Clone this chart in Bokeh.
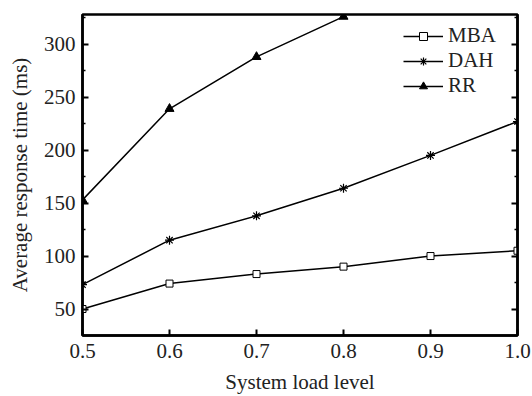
from bokeh.plotting import figure
from bokeh.models import LinearAxis, Range1d, FixedTicker, Legend, LegendItem
from bokeh.embed import file_html
from bokeh.resources import INLINE

load = [0.5, 0.6, 0.7, 0.8, 0.9, 1.0]
mba = [50, 74, 83, 90, 100, 105]
dah = [73, 115, 138, 164, 195, 227]
rr_load = [0.5, 0.6, 0.7, 0.8]
rr = [153, 239, 288, 326]
x_ticks = [0.5, 0.6, 0.7, 0.8, 0.9, 1.0]
y_ticks = [50, 100, 150, 200, 250, 300]
y_minor = [75, 125, 175, 225, 275, 325]

FONT = "Liberation Serif"
TXT = "#222222"

p = figure(width=532, height=396, output_backend="svg", toolbar_location=None,
           x_range=Range1d(0.5, 1.0), y_range=Range1d(25, 328),
           min_border_left=82, min_border_right=15, min_border_top=14, min_border_bottom=60)
p.grid.visible = False
p.outline_line_color = "black"
p.outline_line_width = 2.5
p.background_fill_color = "white"
p.border_fill_color = "white"

for ax in (p.xaxis[0], p.yaxis[0]):
    ax.axis_line_width = 2.5
    ax.major_tick_in = 6
    ax.major_tick_out = 0
    ax.minor_tick_in = 3
    ax.minor_tick_out = 0
    ax.major_tick_line_width = 2
    ax.minor_tick_line_width = 1.5
    ax.major_label_text_font = FONT
    ax.major_label_text_font_size = "21px"
    ax.major_label_text_color = TXT
    ax.axis_label_text_font = FONT
    ax.axis_label_text_font_size = "21px"
    ax.axis_label_text_font_style = "normal"
    ax.axis_label_text_color = TXT

p.xaxis[0].ticker = FixedTicker(ticks=x_ticks, minor_ticks=[])
p.xaxis[0].minor_tick_in = 0
p.xaxis[0].axis_label = "System load level"
p.xaxis[0].major_label_standoff = 8
p.xaxis[0].axis_label_standoff = 9
p.xaxis[0].major_label_overrides = {1.0: "1.0"}

p.yaxis[0].ticker = FixedTicker(ticks=y_ticks, minor_ticks=y_minor)
p.yaxis[0].axis_label = "Average response time (ms)"
p.yaxis[0].major_label_standoff = 7
p.yaxis[0].axis_label_standoff = 9

right = LinearAxis(ticker=FixedTicker(ticks=y_ticks, minor_ticks=y_minor),
                   major_label_overrides={t: "" for t in y_ticks},
                   major_tick_in=6, major_tick_out=0,
                   minor_tick_in=3, minor_tick_out=0, major_tick_line_width=2,
                   minor_tick_line_width=1.5, axis_line_width=2.5, major_label_standoff=0)
p.add_layout(right, "right")

lw = 1.5
l1 = p.line(load, mba, line_color="black", line_width=lw)
s1 = p.scatter(load, mba, marker="square", size=7, line_color="black", fill_color="white", line_width=1)
l2 = p.line(load, dah, line_color="black", line_width=lw)
s2 = p.scatter(load, dah, marker="asterisk", size=9, line_color="black", line_width=1.2)
l3 = p.line(rr_load, rr, line_color="black", line_width=lw)
s3 = p.scatter(rr_load, rr, marker="triangle", size=9, line_color="black", fill_color="black")

legend = Legend(items=[LegendItem(label="MBA", renderers=[l1, s1]),
                       LegendItem(label="DAH", renderers=[l2, s2]),
                       LegendItem(label="RR", renderers=[l3, s3])],
                location=(321, 237), border_line_color=None, background_fill_alpha=0,
                label_text_font=FONT, label_text_font_size="21px", label_text_color=TXT,
                glyph_width=40, glyph_height=20, spacing=0, padding=4,
                label_standoff=5, label_height=20)
p.add_layout(legend, "center")

open("out.html", "w").write(file_html(p, INLINE))
